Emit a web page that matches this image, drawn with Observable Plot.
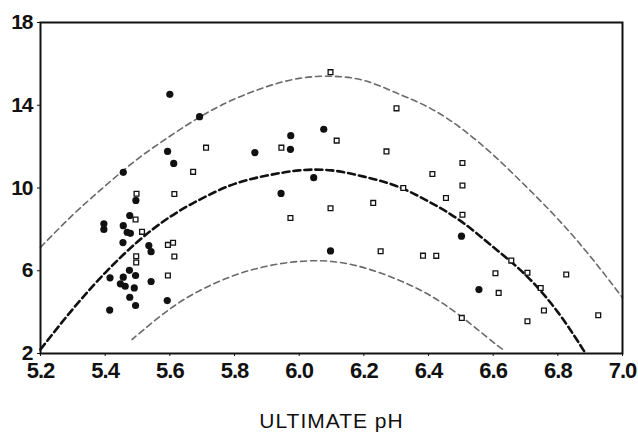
<!DOCTYPE html>
<html>
<head>
<meta charset="utf-8">
<script src="https://cdn.jsdelivr.net/npm/d3@7"></script>
<script src="https://cdn.jsdelivr.net/npm/@observablehq/plot@0.6"></script>
<style>
  html, body { margin: 0; padding: 0; background: #fff; }
  g[aria-label="x-axis tick label"] text, g[aria-label="y-axis tick label"] text { letter-spacing: -1px; }
  g[aria-label="text"] text { letter-spacing: 1px; }
</style>
</head>
<body>
<div id="chart"></div>
<script>
// Axis ticks
const xTicks = [5.2, 5.4, 5.6, 5.8, 6.0, 6.2, 6.4, 6.6, 6.8, 7.0];
const yTicks = [2, 6, 10, 14, 18];
const xLabel = "ULTIMATE pH";

// Filled circles
const filledX = [5.600, 5.692, 5.593, 5.612, 5.456, 6.076, 5.974, 5.863, 5.973, 6.045, 5.944, 6.097, 6.502, 6.556,
  5.396, 5.396, 5.495, 5.476, 5.456, 5.468, 5.478, 5.455, 5.535, 5.542, 5.475, 5.415, 5.456, 5.447, 5.462, 5.494,
  5.490, 5.542, 5.476, 5.494, 5.414, 5.592];
const filledY = [14.53, 13.45, 11.77, 11.19, 10.76, 12.84, 12.53, 11.71, 11.87, 10.50, 9.74, 6.96, 7.67, 5.09,
  8.27, 8.00, 9.40, 8.67, 8.18, 7.86, 7.81, 7.36, 7.22, 6.92, 6.02, 5.66, 5.69, 5.37, 5.25, 5.77,
  5.17, 5.48, 4.72, 4.32, 4.10, 4.56];

// Open squares
const openX = [6.097, 6.301, 5.712, 5.672, 6.116, 5.945, 6.270, 6.505, 6.412, 6.229, 6.097, 5.973, 6.252, 6.505,
  6.454, 6.505, 6.383, 6.424, 6.656, 6.607, 6.706, 6.826, 6.617, 6.747, 6.757, 6.503, 6.706, 6.925, 6.322,
  5.497, 5.494, 5.514, 5.594, 5.610, 5.614, 5.614, 5.496, 5.496, 5.594];
const openY = [15.60, 13.85, 11.95, 10.78, 12.29, 11.95, 11.77, 11.21, 10.68, 9.28, 9.02, 8.55, 6.94, 10.12,
  9.52, 8.71, 6.73, 6.72, 6.49, 5.88, 5.90, 5.82, 4.93, 5.17, 4.08, 3.72, 3.56, 3.85, 10.00,
  9.72, 8.48, 7.88, 7.25, 7.35, 9.71, 6.69, 6.70, 6.40, 5.77];

// Dashed curves
const upperX = [5.2, 5.3, 5.4, 5.5, 5.6, 5.7, 5.8, 5.9, 6.0, 6.1, 6.2, 6.3, 6.4, 6.5, 6.6, 6.7, 6.8, 6.9, 7.0];
const upperY = [7.13, 8.7, 10.1, 11.4, 12.5, 13.5, 14.3, 14.9, 15.3, 15.4, 15.2, 14.6, 13.9, 12.9, 11.6, 10.1, 8.5, 6.7, 4.7];
const middleX = [5.2, 5.3, 5.4, 5.5, 5.6, 5.7, 5.8, 5.9, 6.0, 6.1, 6.2, 6.3, 6.4, 6.5, 6.6, 6.7, 6.8, 6.886];
const middleY = [2.2, 4.15, 5.9, 7.4, 8.6, 9.5, 10.2, 10.6, 10.85, 10.85, 10.55, 10.1, 9.35, 8.4, 7.15, 5.8, 4.0, 2.0];
const lowerX = [5.485, 5.5, 5.6, 5.7, 5.8, 5.9, 6.0, 6.1, 6.2, 6.3, 6.4, 6.5, 6.6, 6.63];
const lowerY = [2.7, 2.9, 4.15, 5.1, 5.78, 6.22, 6.45, 6.45, 6.15, 5.6, 4.85, 3.8, 2.55, 2.2];

const filled = filledX.map((x, i) => ({x, y: filledY[i]}));
const open = openX.map((x, i) => ({x, y: openY[i]}));
const upper = upperX.map((x, i) => ({x, y: upperY[i]}));
const middle = middleX.map((x, i) => ({x, y: middleY[i]}));
const lower = lowerX.map((x, i) => ({x, y: lowerY[i]}));

const font = "'Liberation Sans', Arial, Helvetica, sans-serif";

const chart = Plot.plot({
  width: 638,
  height: 437,
  marginLeft: 40,
  marginRight: 16,
  marginTop: 22,
  marginBottom: 84,
  style: {fontFamily: font, background: "#fff", color: "#111"},
  x: {domain: [5.2, 7.0]},
  y: {domain: [2, 18]},
  marks: [
    Plot.line(upper, {x: "x", y: "y", curve: "natural", stroke: "#6a6a6a", strokeWidth: 1.6, strokeDasharray: "6,4"}),
    Plot.line(lower, {x: "x", y: "y", curve: "natural", stroke: "#6a6a6a", strokeWidth: 1.6, strokeDasharray: "6,4"}),
    Plot.line(middle, {x: "x", y: "y", curve: "natural", stroke: "#111", strokeWidth: 2.6, strokeDasharray: "7,4"}),
    Plot.dot(open, {x: "x", y: "y", symbol: "square", r: 2.7, stroke: "#111", strokeWidth: 1.3, fill: "#fff"}),
    Plot.dot(filled, {x: "x", y: "y", r: 3.6, fill: "#111", stroke: "none"}),
    Plot.frame({stroke: "#111", strokeWidth: 2}),
    Plot.axisX({ticks: xTicks, tickFormat: d3.format(".1f"), tickSize: 3, tickPadding: 6, fontSize: 22, fontWeight: "bold", label: null, stroke: "#111"}),
    Plot.axisY({ticks: yTicks, tickFormat: d3.format("d"), tickSize: 3, tickPadding: 5, fontSize: 21, fontWeight: "bold", label: null, stroke: "#111"}),
    Plot.text([xLabel], {text: d => d, frameAnchor: "bottom", dy: 74, fontSize: 21, fill: "#111", fontFamily: font})
  ]
});
document.getElementById("chart").appendChild(chart);
</script>
</body>
</html>
